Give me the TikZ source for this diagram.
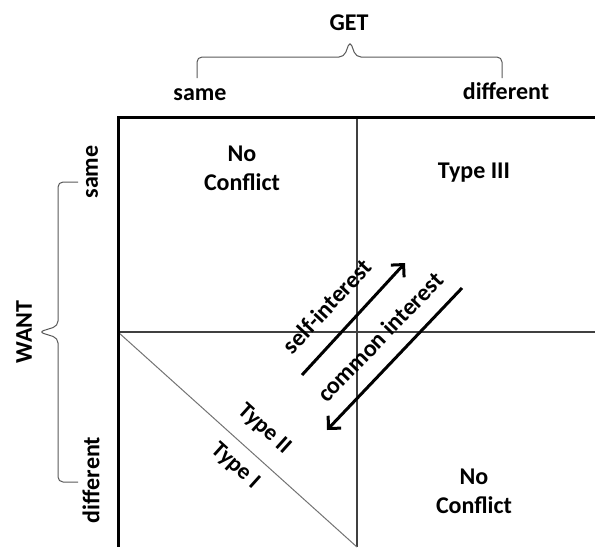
\documentclass[tikz,border=0pt]{standalone}
\usepackage{fontspec}
\setmainfont{Carlito}
\usetikzlibrary{arrows.meta}
\tikzset{
  lbl/.style={font=\bfseries\fontsize{24}{29}\selectfont,align=center,inner sep=0pt},
  slbl/.style={lbl,font=\bfseries\fontsize{23}{27}\selectfont},
  brc/.style={draw=black!65,line width=1pt,rounded corners=5pt},
  flow/.style={line width=3pt,-{Straight Barb[length=9pt,width=18pt,line width=3pt]}}
}
\begin{document}
\begin{tikzpicture}[x=1pt,y=-1pt]
		\useasboundingbox (0,0) rectangle (595,547);
		% frame and quadrants
		\coordinate (tl) at (118,117);
		\coordinate (tr) at (595,117);
		\coordinate (bl) at (118,547);
		\coordinate (mt) at (357,117);
		\coordinate (mb) at (357,547);
		\coordinate (ml) at (118,332);
		\coordinate (mr) at (595,332);
		\draw[black!75,line width=1.2pt] (mt) -- (mb);
		\draw[black!75,line width=1.2pt] (ml) -- (mr);
		\draw[black!55,line width=1pt] (ml) -- (mb);
		\draw[line width=3pt] (tr) -- (tl) -- (bl);
		% GET brace
		\node[lbl] (get) at (349,23) {GET};
		\node[lbl] (gsame) at (200,95) {same};
		\node[lbl] (gdiff) at (506,91) {different};
		\draw[brc] (197,78) -- (197,57) -- (344,57) -- (350,41) -- (356,57) -- (502,57) -- (502,78);
		% WANT brace
		\node[lbl,rotate=90] (want) at (24,332) {WANT};
		\node[lbl,rotate=90] (wsame) at (92,172) {same};
		\node[lbl,rotate=90] (wdiff) at (91,480) {different};
		\draw[brc] (78,182) -- (58,182) -- (58,326) -- (39,332) -- (58,338) -- (58,482) -- (78,482);
		% quadrants
		\node[lbl] (nc1) at (242,168) {No\\Conflict};
		\node[lbl] (t3) at (474,173) {Type III};
		\node[lbl] (nc2) at (474,491) {No\\Conflict};
		\node[slbl,rotate=-42] (t2) at (264,429) {Type II};
		\node[slbl,rotate=-42] (t1) at (235,466) {Type I};
		% interests
		\coordinate (s0) at (302,375);
		\coordinate (s1) at (405,263);
		\coordinate (c0) at (462,288);
		\coordinate (c1) at (327,430);
		\draw[flow] (s0) -- (s1);
		\draw[flow] (c0) -- (c1);
		\node[lbl,rotate=47] (self) at (327,306) {self-interest};
		\node[lbl,rotate=46] (common) at (380,337) {common interest};
\end{tikzpicture}
\end{document}
